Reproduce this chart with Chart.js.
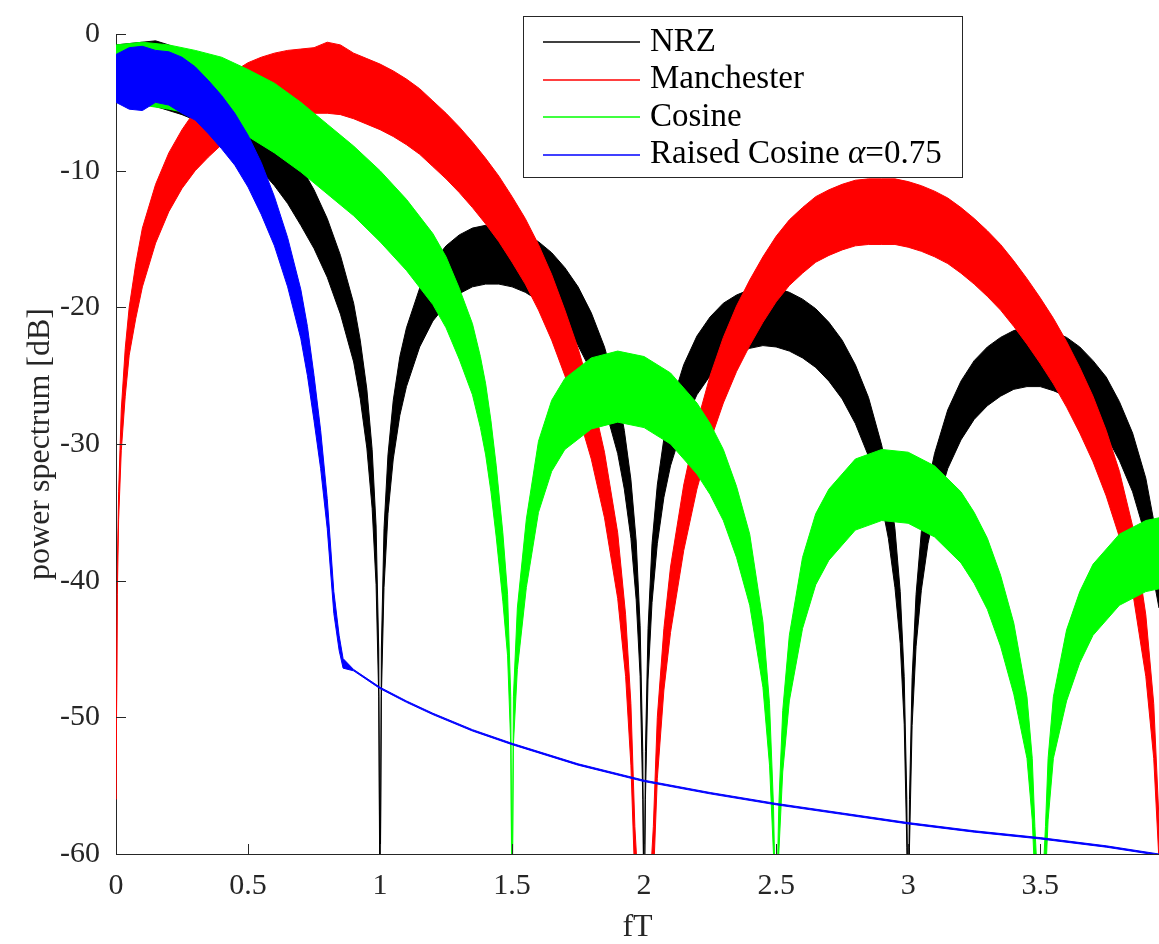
<!DOCTYPE html>
<html>
<head>
<meta charset="utf-8">
<script src="https://cdn.jsdelivr.net/npm/chart.js@4/dist/chart.umd.min.js"></script>
<style>
  html, body { margin: 0; padding: 0; background: #fff; }
  #wrap { width: 1159px; height: 944px; }
</style>
</head>
<body>
<div id="wrap"><canvas id="psd"></canvas></div>
<script>
// power spectra, in dB against fT
// every noisy trace is kept as the top and bottom edge of its band
var seriesNames = ['NRZ', 'Manchester', 'Cosine', 'Raised Cosine α=0.75']
var seriesColors = ['#000000', '#ff0000', '#00ff00', '#0000ff']

var xTicks = [0, 0.5, 1, 1.5, 2, 2.5, 3, 3.5]
var yTicks = [0, -10, -20, -30, -40, -50, -60]

var nrzF = [0, 0.05, 0.1, 0.15, 0.2, 0.25, 0.3, 0.35, 0.4, 0.45, 0.5, 0.55, 0.6, 0.65, 0.7, 0.75, 0.8, 0.85, 0.9,
  0.925, 0.95, 0.97, 0.985, 0.995, 1, 1.005, 1.015, 1.03, 1.05, 1.075, 1.1,
  1.15, 1.2, 1.25, 1.3, 1.35, 1.4, 1.45, 1.5, 1.55, 1.6, 1.65, 1.7, 1.75, 1.8, 1.85, 1.9,
  1.925, 1.95, 1.97, 1.985, 1.995, 2, 2.005, 2.015, 2.03, 2.05, 2.075, 2.1,
  2.15, 2.2, 2.25, 2.3, 2.35, 2.4, 2.45, 2.5, 2.55, 2.6, 2.65, 2.7, 2.75, 2.8, 2.85, 2.9,
  2.925, 2.95, 2.97, 2.985, 2.995, 3, 3.005, 3.015, 3.03, 3.05, 3.075, 3.1,
  3.15, 3.2, 3.25, 3.3, 3.35, 3.4, 3.45, 3.5, 3.55, 3.6, 3.65, 3.7, 3.75, 3.8, 3.85, 3.9, 3.95]
var nrzHi = [-0.8, -0.7, -0.6, -0.5, -0.8, -1.4, -2.0, -2.5, -3.1, -3.8, -4.8, -5.7, -6.8, -8.1, -9.7, -11.4, -13.5, -16.2, -19.7,
  -22.4, -26.0, -30.4, -36.0, -45.0, -66, -45.0, -36.2, -30.8, -26.8, -23.6, -21.5,
  -18.6, -16.7, -15.5, -14.7, -14.2, -14.0, -14.0, -14.2, -14.6, -15.2, -16.0, -17.1, -18.5, -20.4, -22.9, -26.4,
  -29.0, -32.6, -37.1, -43.3, -52.5, -66, -52.5, -43.5, -37.3, -33.0, -29.6, -27.3,
  -24.2, -22.1, -20.7, -19.7, -19.1, -18.7, -18.5, -18.6, -18.9, -19.4, -20.1, -21.1, -22.4, -24.2, -26.6, -30.1,
  -32.6, -36.2, -40.8, -47.0, -56.0, -66, -56.0, -47.1, -41.0, -36.4, -33.0, -30.7,
  -27.5, -25.4, -23.9, -22.9, -22.2, -21.7, -21.5, -21.5, -21.8, -22.2, -22.9, -23.9, -25.1, -26.9, -29.2, -32.5, -37.7]
var nrzLo = [-5.0, -5.0, -5.1, -5.3, -5.6, -5.9, -6.3, -6.8, -7.4, -8.1, -9.1, -10.0, -11.1, -12.4, -14.0, -15.7, -17.8, -20.5, -24.0,
  -26.7, -30.3, -34.7, -40.3, -48.5, -66, -48.5, -40.5, -35.1, -31.1, -27.9, -25.8,
  -22.9, -21.0, -19.8, -19.0, -18.5, -18.3, -18.3, -18.5, -18.9, -19.5, -20.3, -21.4, -22.8, -24.7, -27.2, -30.7,
  -33.3, -36.9, -41.4, -47.0, -56.0, -66, -56.0, -47.2, -41.6, -37.3, -33.9, -31.6,
  -28.5, -26.4, -25.0, -24.0, -23.4, -23.0, -22.8, -22.9, -23.2, -23.7, -24.4, -25.4, -26.7, -28.5, -30.9, -34.4,
  -36.9, -40.5, -44.6, -50.5, -59.5, -66, -59.5, -50.6, -44.8, -40.7, -37.3, -35.0,
  -31.8, -29.7, -28.2, -27.2, -26.5, -26.0, -25.8, -25.8, -26.1, -26.5, -27.2, -28.2, -29.4, -31.2, -33.5, -36.8, -42.0]

var manF = [0, 0.005, 0.01, 0.02, 0.035, 0.05, 0.075,
  0.1, 0.15, 0.2, 0.25, 0.3, 0.35, 0.4, 0.45, 0.5, 0.55, 0.6, 0.65, 0.7, 0.75, 0.8, 0.85, 0.9, 0.95, 1,
  1.05, 1.1, 1.15, 1.2, 1.25, 1.3, 1.35, 1.4, 1.45, 1.5, 1.55, 1.6, 1.65, 1.7, 1.75, 1.8, 1.85, 1.9,
  1.93, 1.95, 1.965, 2, 2.035, 2.05, 2.075,
  2.1, 2.15, 2.2, 2.25, 2.3, 2.35, 2.4, 2.45, 2.5, 2.55, 2.6, 2.65, 2.7, 2.75, 2.8, 2.85, 2.9, 2.95, 3,
  3.05, 3.1, 3.15, 3.2, 3.25, 3.3, 3.35, 3.4, 3.45, 3.5, 3.55, 3.6, 3.65, 3.7, 3.75, 3.8, 3.85, 3.9,
  3.93, 3.95]
var manHi = [-56, -39, -33.5, -27.5, -23, -20, -16.8,
  -14.2, -11.0, -8.7, -7.0, -5.6, -4.4, -3.5, -2.7, -2.1, -1.7, -1.4, -1.2, -1.1, -1.0, -0.6, -0.8, -1.4, -1.8, -2.2,
  -2.7, -3.3, -4.0, -4.9, -5.8, -6.8, -7.9, -9.1, -10.4, -11.9, -13.5, -15.4, -17.6, -20.2, -23.0, -26.3, -30.6, -36.5,
  -42.5, -49.0, -58, -70, -58, -50.0, -43.5,
  -39.0, -33.0, -28.5, -25.0, -22.2, -19.9, -18.0, -16.3, -14.8, -13.6, -12.7, -11.9, -11.4, -11.0, -10.7, -10.6, -10.6, -10.6, -10.8,
  -11.1, -11.5, -12.0, -12.7, -13.5, -14.4, -15.4, -16.6, -17.9, -19.3, -20.8, -22.5, -24.4, -26.5, -29.0, -32.0, -36.0, -42.5,
  -49.0, -57.5]
var manLo = [-56, -41, -35.5, -30.5, -26.5, -23.5, -20.8,
  -18.5, -15.3, -13.0, -11.3, -10.0, -9.0, -8.1, -7.5, -6.9, -6.5, -6.2, -6.0, -5.9, -5.8, -5.8, -5.9, -6.2, -6.6, -7.0,
  -7.5, -8.1, -8.8, -9.7, -10.6, -11.6, -12.7, -13.9, -15.2, -16.7, -18.3, -20.2, -22.4, -25.0, -27.8, -31.1, -35.4, -41.3,
  -47.0, -53.5, -62, -70, -62, -54.5, -48.0,
  -43.8, -37.8, -33.3, -29.8, -27.0, -24.7, -22.8, -21.1, -19.6, -18.4, -17.5, -16.7, -16.2, -15.8, -15.5, -15.4, -15.4, -15.4, -15.6,
  -15.9, -16.3, -16.8, -17.5, -18.3, -19.2, -20.2, -21.4, -22.7, -24.1, -25.6, -27.3, -29.2, -31.3, -33.8, -36.8, -40.8, -47.0,
  -53.0, -60.5]

var cosF = [0, 0.1, 0.2, 0.3, 0.4, 0.5, 0.6, 0.7, 0.8, 0.9, 1, 1.1, 1.2,
  1.25, 1.3, 1.35, 1.38, 1.4, 1.42, 1.44, 1.465, 1.483, 1.495, 1.5,
  1.505, 1.52, 1.554, 1.6, 1.65, 1.7, 1.8, 1.9, 2, 2.1, 2.2, 2.25, 2.3, 2.35, 2.4, 2.45, 2.475, 2.49, 2.5,
  2.51, 2.525, 2.55, 2.6, 2.65, 2.7, 2.8, 2.9, 3, 3.1, 3.2, 3.25, 3.3, 3.35, 3.4, 3.45, 3.47, 3.48, 3.5,
  3.52, 3.53, 3.55, 3.6, 3.65, 3.7, 3.8, 3.9, 3.95]
var cosHi = [-0.8, -0.6, -0.8, -1.2, -1.7, -2.6, -3.6, -5.0, -6.6, -8.2, -10.0, -12.1, -14.6,
  -16.3, -18.6, -21.2, -23.6, -25.6, -28.3, -31.6, -36.5, -41.0, -48.5, -66,
  -48.5, -42.0, -35.5, -29.8, -26.8, -25.2, -23.7, -23.2, -23.6, -24.8, -27.0, -28.5, -30.4, -33.1, -36.6, -43.0, -49.0, -56.5, -66,
  -56.5, -49.5, -44.0, -38.3, -35.1, -33.3, -31.1, -30.4, -30.6, -31.6, -33.5, -35.0, -36.9, -39.6, -43.1, -48.5, -53.0, -58, -66,
  -58, -53.0, -48.5, -43.6, -40.8, -38.8, -36.6, -35.6, -35.4]
var cosLo = [-5.0, -5.2, -5.5, -5.9, -6.6, -7.5, -8.7, -10.1, -11.7, -13.3, -15.2, -17.3, -19.8,
  -21.5, -23.8, -26.4, -28.8, -30.8, -33.5, -36.8, -41.5, -45.5, -52, -66,
  -52, -46.5, -40.5, -35.0, -32.0, -30.4, -28.9, -28.4, -28.8, -30.0, -32.2, -33.7, -35.6, -38.3, -41.8, -47.8, -53.5, -60, -66,
  -60, -54, -48.8, -43.5, -40.3, -38.5, -36.3, -35.6, -35.8, -36.8, -38.7, -40.2, -42.1, -44.8, -48.3, -53.0, -57.5, -62, -66,
  -62, -57.5, -53.0, -48.8, -46.0, -44.0, -41.8, -40.8, -40.6]

var rcF = [0, 0.05, 0.1, 0.15, 0.2, 0.25, 0.3, 0.35, 0.4, 0.45, 0.5, 0.55, 0.6, 0.65, 0.7,
  0.725, 0.75, 0.775, 0.8, 0.825, 0.845, 0.86,
  0.9, 1, 1.1, 1.2, 1.35, 1.5, 1.75, 2, 2.25, 2.5, 2.75, 3, 3.25, 3.5, 3.75, 3.95]
var rcHi = [-1.5, -1.0, -0.9, -1.2, -1.3, -1.7, -2.4, -3.4, -4.5, -5.8, -7.4, -9.4, -11.9, -14.9, -18.7,
  -21.4, -25.0, -29.0, -34.0, -40.8, -44.0, -45.7,
  -46.5, -47.8, -48.8, -49.7, -50.9, -51.9, -53.4, -54.6, -55.5, -56.3, -57.0, -57.7, -58.3, -58.8, -59.4, -60.0]
var rcLo = [-5.0, -5.5, -5.6, -5.0, -5.2, -5.8, -6.3, -7.3, -8.4, -9.6, -11.2, -13.2, -15.5, -18.5, -22.3,
  -25.0, -28.3, -31.8, -36.2, -42.4, -45.1, -46.4,
  -46.6, -47.9, -48.9, -49.8, -51.0, -52.0, -53.5, -54.7, -55.6, -56.4, -57.1, -57.8, -58.4, -58.9, -59.5, -60.1]

var axisColor = '#262626'
var serif = "'Liberation Serif', 'Times New Roman', serif"

function points(f, vals) {
  return f.map((x, i) => ({x: x, y: vals[i]}))
}

// later traces sit on top, like the original plot order
var traces = [
  {f: nrzF, hi: nrzHi, lo: nrzLo, order: 4},
  {f: manF, hi: manHi, lo: manLo, order: 3},
  {f: cosF, hi: cosHi, lo: cosLo, order: 2},
  {f: rcF, hi: rcHi, lo: rcLo, order: 1}
]

var datasets = []
traces.forEach((t, k) => {
  datasets.push({
    label: seriesNames[k],
    data: points(t.f, t.hi),
    borderColor: seriesColors[k],
    backgroundColor: seriesColors[k],
    borderWidth: 1,
    pointRadius: 0,
    fill: '+1',
    order: t.order
  })
  datasets.push({
    label: seriesNames[k] + ' (low edge)',
    data: points(t.f, t.lo),
    borderColor: seriesColors[k],
    borderWidth: 1,
    pointRadius: 0,
    fill: false,
    order: t.order
  })
})

// MATLAB style ticks pointing into the plot
const inwardTicks = {
  id: 'inwardTicks',
  afterDraw(chart) {
    const ctx = chart.ctx
    const xs = chart.scales.x
    const ys = chart.scales.y
    const area = chart.chartArea
    ctx.save()
    ctx.strokeStyle = axisColor
    ctx.lineWidth = 1
    xs.ticks.forEach(t => {
      const px = Math.round(xs.getPixelForValue(t.value)) + 0.5
      ctx.beginPath()
      ctx.moveTo(px, area.bottom)
      ctx.lineTo(px, area.bottom - 10)
      ctx.stroke()
    })
    ys.ticks.forEach(t => {
      const py = Math.round(ys.getPixelForValue(t.value)) + 0.5
      ctx.beginPath()
      ctx.moveTo(area.left, py)
      ctx.lineTo(area.left + 10, py)
      ctx.stroke()
    })
    ctx.restore()
  }
}

// boxed legend in the upper right, drawn over the traces
const boxLegend = {
  id: 'boxLegend',
  afterDraw(chart) {
    const ctx = chart.ctx
    const left = 523, top = 16, w = 439, h = 161
    ctx.save()
    ctx.fillStyle = '#ffffff'
    ctx.fillRect(left, top, w, h)
    ctx.strokeStyle = axisColor
    ctx.lineWidth = 1
    ctx.strokeRect(left + 0.5, top + 0.5, w, h)
    ctx.textBaseline = 'middle'
    seriesNames.forEach((name, k) => {
      const y = top + 26 + k * 37.5
      ctx.strokeStyle = seriesColors[k]
      ctx.lineWidth = 1.6
      ctx.beginPath()
      ctx.moveTo(543, Math.round(y))
      ctx.lineTo(640, Math.round(y))
      ctx.stroke()
      ctx.fillStyle = '#000000'
      let x = 650
      const parts = name.split('α')
      parts.forEach((part, j) => {
        ctx.font = '33px ' + serif
        ctx.fillText(part, x, y)
        x += ctx.measureText(part).width
        if (j < parts.length - 1) {
          ctx.font = 'italic 33px ' + serif
          ctx.fillText('α', x, y)
          x += ctx.measureText('α').width
        }
      })
    })
    ctx.restore()
  }
}

new Chart(document.getElementById('psd'), {
  type: 'line',
  data: { datasets: datasets },
  plugins: [inwardTicks, boxLegend],
  options: {
    responsive: true,
    maintainAspectRatio: false,
    animation: false,
    layout: { padding: { left: 0, top: 21, right: 0, bottom: 0 } },
    elements: { line: { tension: 0 } },
    plugins: {
      legend: { display: false },
      tooltip: { enabled: false }
    },
    scales: {
      x: {
        type: 'linear',
        min: 0,
        max: 3.95,
        afterBuildTicks: s => { s.ticks = xTicks.map(v => ({value: v})) },
        afterFit: s => { s.height = 90 },
        grid: { display: false, drawTicks: false },
        border: { display: true, color: axisColor, width: 1 },
        ticks: { color: axisColor, font: { family: serif, size: 30 }, padding: 14, maxRotation: 0, callback: v => String(v) },
        title: { display: true, text: 'fT', color: axisColor, font: { family: serif, size: 32, lineHeight: 1 }, padding: { top: 0, bottom: 0 } }
      },
      y: {
        type: 'linear',
        min: -60,
        max: 0,
        afterBuildTicks: s => { s.ticks = yTicks.map(v => ({value: v})) },
        afterFit: s => { s.width = 116 },
        grid: { display: false, drawTicks: false },
        border: { display: true, color: axisColor, width: 1 },
        ticks: { color: axisColor, font: { family: serif, size: 30 }, padding: 16, callback: v => String(v) },
        title: { display: true, text: 'power spectrum [dB]', color: axisColor, font: { family: serif, size: 32, lineHeight: 1.2 }, padding: { top: 21, bottom: 0 } }
      }
    }
  }
})
</script>
</body>
</html>
